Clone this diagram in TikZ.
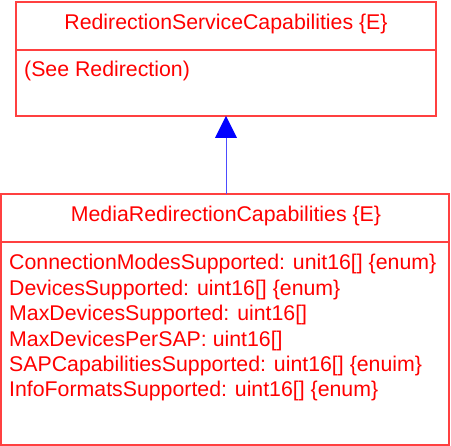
\documentclass[tikz,border=0pt]{standalone}
\usepackage{fontspec}
\setmainfont{Liberation Sans}
\begin{document}
\begin{tikzpicture}[x=1pt,y=-1pt,
  boxline/.style={draw=red!75, line width=1.1pt},
  txt/.style={text=red, font=\fontsize{21.3}{25.4}\selectfont, inner sep=0pt},
  attr/.style={txt, anchor=base west}]
\useasboundingbox (0,0) rectangle (451,446);
% top class
\draw[boxline] (16,2) rectangle (436,116);
\draw[boxline] (16,50) -- (436,50);
\coordinate (topbot) at (226,116);
\node[txt, anchor=base] (t1) at (226,30) {RedirectionServiceCapabilities \{E\}};
\node[attr] (a1) at (24,77) {(See Redirection)};
% bottom class
\draw[boxline] (1,194) rectangle (449,445);
\draw[boxline] (1,242) -- (449,242);
\coordinate (botop) at (226,194);
\node[txt, anchor=base] (t2) at (226,222) {MediaRedirectionCapabilities \{E\}};
\node[attr] (b1) at (9,270) {ConnectionModesSupported: unit16[] \{enum\}};
\node[attr] (b2) at (9,295.4) {DevicesSupported: uint16[] \{enum\}};
\node[attr] (b3) at (9,320.8) {MaxDevicesSupported: uint16[]};
\node[attr] (b4) at (9,346.2) {MaxDevicesPerSAP: uint16[]};
\node[attr] (b5) at (9,371.6) {SAPCapabilitiesSupported: uint16[] \{enuim\}};
\node[attr] (b6) at (9,397) {InfoFormatsSupported: uint16[] \{enum\}};
% generalization arrow
\coordinate (hb) at (226,138);
\draw[blue!70, line width=0.9pt] (botop) -- (hb);
\fill[blue] (topbot) -- (237,138) -- (215,138) -- cycle;
\end{tikzpicture}
\end{document}
